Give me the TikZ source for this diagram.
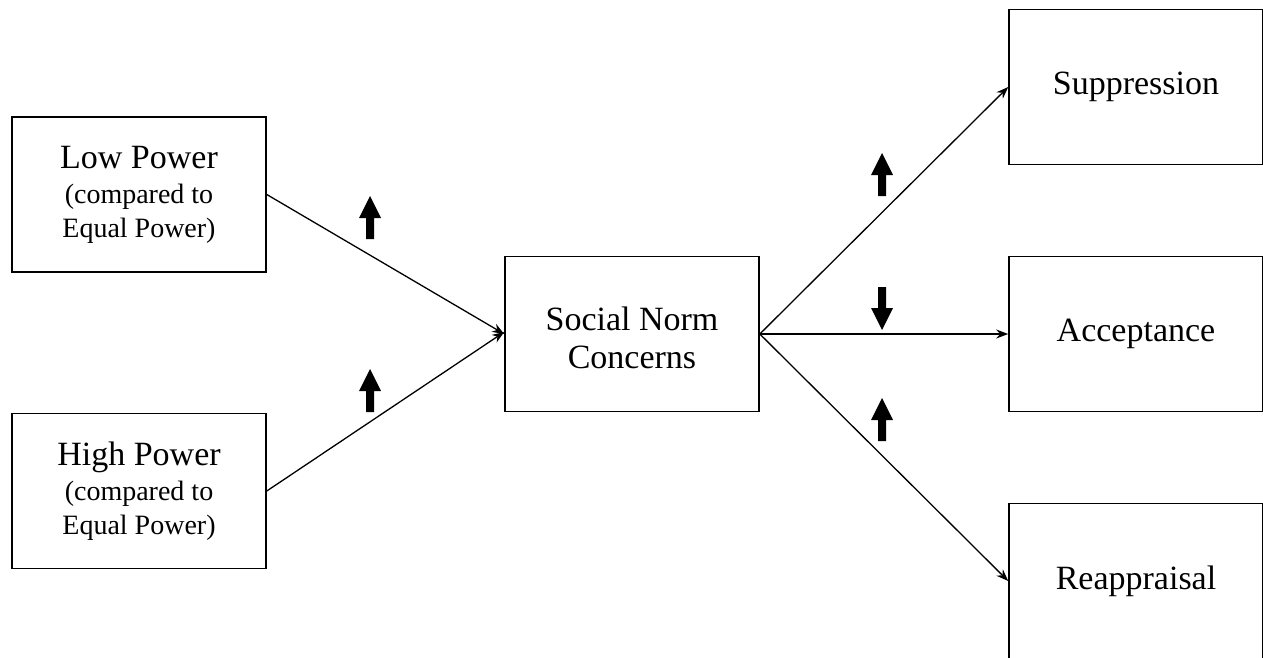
\documentclass[tikz,border=0pt]{standalone}
\usepackage{fontspec}
\setmainfont{Liberation Serif}
\usetikzlibrary{arrows.meta}
\newcommand\smallline{\fontsize{28}{32}\selectfont}
\begin{document}
\begin{tikzpicture}[x=1pt,y=-1pt,
  box/.style={draw, line width=1.6pt, minimum width=254pt, minimum height=155pt,
    align=center, inner sep=0pt, font=\fontsize{34}{38}\selectfont},
  boxtext/.style={align=center, inner sep=0pt, font=\fontsize{34}{38}\selectfont},
  link/.style={line width=1.3pt, -{Stealth[length=12pt,width=9pt]}},
  updir/.pic={\fill (-4,21) -- (4,21) -- (4,0) -- (11,0) -- (0,-22) -- (-11,0) -- (-4,0) -- cycle;},
  downdir/.pic={\fill (-4,-21) -- (4,-21) -- (4,0) -- (11,0) -- (0,22) -- (-11,0) -- (-4,0) -- cycle;}
]
\useasboundingbox (0,0) rectangle (1263,658);
\begin{scope}
\clip (0,0) rectangle (1263,658);

% inputs
\node[box] (low) at (139,194.5) {Low Power\\[-3pt]{\smallline (compared to}\\[-4pt]{\smallline Equal Power)}};
\node[box] (high) at (139,491) {High Power\\[-3pt]{\smallline (compared to}\\[-4pt]{\smallline Equal Power)}};

% mediator
\node[box] (snc) at (632,334) {};
\node[boxtext] (snctext) at (632,338) {Social Norm\\[0pt]Concerns};

% outcomes
\node[box] (sup) at (1136,87) {Suppression};
\node[box] (acc) at (1136,334) {Acceptance};
\node[box] (rea) at (1136,581) {Reappraisal};

% paths
\draw[link] (low.east) -- (snc.west);
\draw[link] (high.east) -- ([yshift=2pt]snc.west);
\draw[link] (snc.east) -- (sup.west);
\draw[link] (snc.east) -- (acc.west);
\draw[link] (snc.east) -- (rea.west);

% direction markers
\pic at (370,218) {updir};
\pic at (370,391) {updir};
\pic at (882,175) {updir};
\pic at (882,308) {downdir};
\pic at (882,420) {updir};
\end{scope}
\end{tikzpicture}
\end{document}
